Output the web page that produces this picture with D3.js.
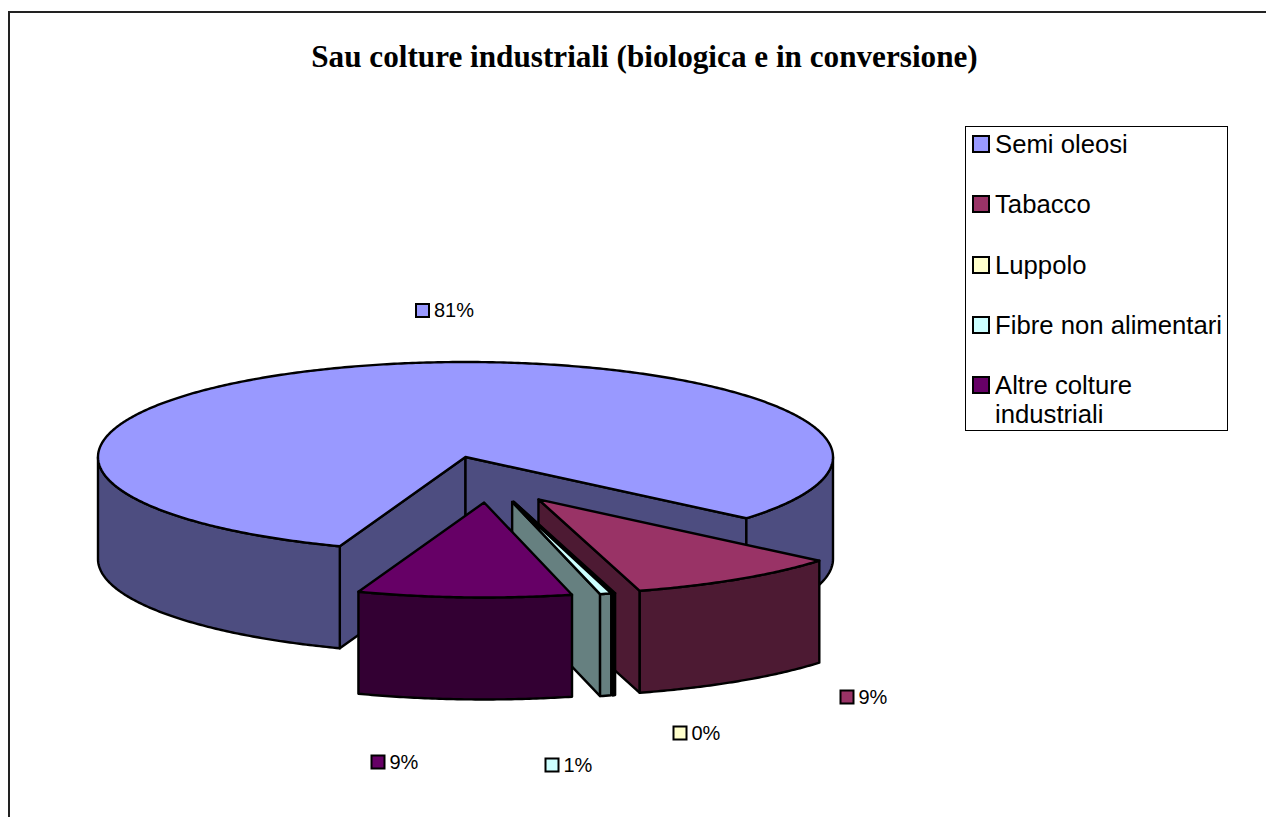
<!DOCTYPE html>
<html>
<head>
<meta charset="utf-8">
<style>
html, body { margin: 0; padding: 0; background: #fff; overflow: hidden; }
svg { display: block; }
</style>
<script src="https://cdnjs.cloudflare.com/ajax/libs/d3/7.8.5/d3.min.js"></script>
</head>
<body>
<div id="chart"></div>
<script>
const chartTitle = 'Sau colture industriali (biologica e in conversione)';
const categories = ['Semi oleosi', 'Tabacco', 'Luppolo', 'Fibre non alimentari', 'Altre colture industriali'];
const shares = [80.6, 9.4, 0.1, 0.5, 9.4];
const colors = ['#9999ff', '#993366', '#ffffcc', '#ccffff', '#660066'];
const exploded = [false, true, true, true, true];

const width = 1266, height = 817;
const cx = 465.5, cy = 457, rx = 367.5, ry = 95, depth = 102;
const firstSliceAngle = 200 * Math.PI / 180;
// label swatch positions, in the same order as categories
const labelPos = [[422.5, 310.5], [847, 697], [680, 733], [552, 765], [378, 762]];
const legendRows = [144, 204, 265, 325, 385];

const svg = d3.select('#chart').append('svg')
	.attr('width', width)
	.attr('height', height);

// frame, runs off the page on the right and at the bottom
svg.append('path')
	.attr('d', `M9,${height}V12H${width}`)
	.attr('fill', 'none')
	.attr('stroke', '#222')
	.attr('stroke-width', 2);

svg.append('text')
	.attr('x', 644.5)
	.attr('y', 67)
	.attr('text-anchor', 'middle')
	.attr('font-family', '"Liberation Serif"')
	.attr('font-weight', 'bold')
	.attr('font-size', 31.2)
	.text(chartTitle);

const pie = d3.pie()
	.sort(null)
	.startAngle(firstSliceAngle)
	.endAngle(firstSliceAngle + 2 * Math.PI);

// d3.pie measures from twelve o'clock, the ellipse below from three o'clock
const arcs = pie(shares).map((d, i) => ({
	index: i,
	a0: d.startAngle - Math.PI / 2,
	a1: d.endAngle - Math.PI / 2
}));

const shade = (c) => {
	const rgb = d3.rgb(c);
	return d3.rgb(rgb.r / 2, rgb.g / 2, rgb.b / 2).formatHex();
};

const offset = (s) => {
	if ( !exploded[s.index] ) return [0, 0];
	const mid = (s.a0 + s.a1) / 2;
	return [23.5 + 91 * Math.cos(mid), 26.5 + 19 * Math.sin(mid)];
};

const line = d3.line();

const rim = (a, ox, oy, drop) => [
	ox + cx + rx * Math.cos(a),
	oy + cy + ry * Math.sin(a) + drop
];

const steps = (a0, a1) => {
	const n = Math.max(2, Math.ceil((a1 - a0) / 0.01));
	return d3.range(n + 1).map(k => a0 + (a1 - a0) * k / n);
};

const outline = (g, d, fill) => {
	g.append('path')
		.attr('d', d)
		.attr('fill', fill)
		.attr('stroke', '#000')
		.attr('stroke-width', 2.4)
		.attr('stroke-linejoin', 'round');
};

const drawSlice = (s) => {
	const g = svg.append('g');
	const [ox, oy] = offset(s);
	const color = colors[s.index];
	const side = shade(color);
	const hub = [ox + cx, oy + cy];
	const hubLow = [ox + cx, oy + cy + depth];

	const face = (a) => {
		outline(g, line([hub, rim(a, ox, oy, 0), rim(a, ox, oy, depth), hubLow]) + 'Z', side);
	};

	// a cut face shows only when it turns toward the viewer
	if ( Math.cos(s.a0) < 0 ) face(s.a0);
	if ( Math.cos(s.a1) > 0 ) face(s.a1);

	// outer wall, front half of the ellipse only
	[0, 2 * Math.PI].forEach(turn => {
		const from = Math.max(s.a0, turn);
		const to = Math.min(s.a1, turn + Math.PI);
		if ( to <= from ) return;
		const upper = steps(from, to).map(a => rim(a, ox, oy, 0));
		const lower = steps(from, to).reverse().map(a => rim(a, ox, oy, depth));
		outline(g, line(upper.concat(lower)) + 'Z', side);
	});

	const top = [hub].concat(steps(s.a0, s.a1).map(a => rim(a, ox, oy, 0)));
	outline(g, line(top) + 'Z', color);
};

arcs.forEach(drawSlice);

const swatch = (g, x, y, size, i) => {
	g.append('rect')
		.attr('x', x)
		.attr('y', y)
		.attr('width', size)
		.attr('height', size)
		.attr('fill', colors[i])
		.attr('stroke', '#000')
		.attr('stroke-width', 2);
};

// data labels
const total = d3.sum(shares);
const labels = svg.append('g').attr('font-family', '"Liberation Sans"').attr('font-size', 20);
shares.forEach((v, i) => {
	const [x, y] = labelPos[i];
	swatch(labels, x - 6.5, y - 6.5, 13, i);
	labels.append('text')
		.attr('x', x + 11.5)
		.attr('y', y + 6.5)
		.text(`${Math.round(v / total * 100)}%`);
});

// legend
const legend = svg.append('g').attr('font-family', '"Liberation Sans"').attr('font-size', 25.7);
legend.append('rect')
	.attr('x', 965.5)
	.attr('y', 126.5)
	.attr('width', 262)
	.attr('height', 304)
	.attr('fill', '#fff')
	.attr('stroke', '#000')
	.attr('stroke-width', 1);

categories.forEach((name, i) => {
	const y = legendRows[i];
	swatch(legend, 973, y - 8, 16, i);
	// the last entry wraps on two lines in the box
	const lines = i === categories.length - 1 ? ['Altre colture', 'industriali'] : [name];
	lines.forEach((t, k) => {
		legend.append('text')
			.attr('x', 995)
			.attr('y', y + 9 + k * 29)
			.text(t);
	});
});
</script>
</body>
</html>
